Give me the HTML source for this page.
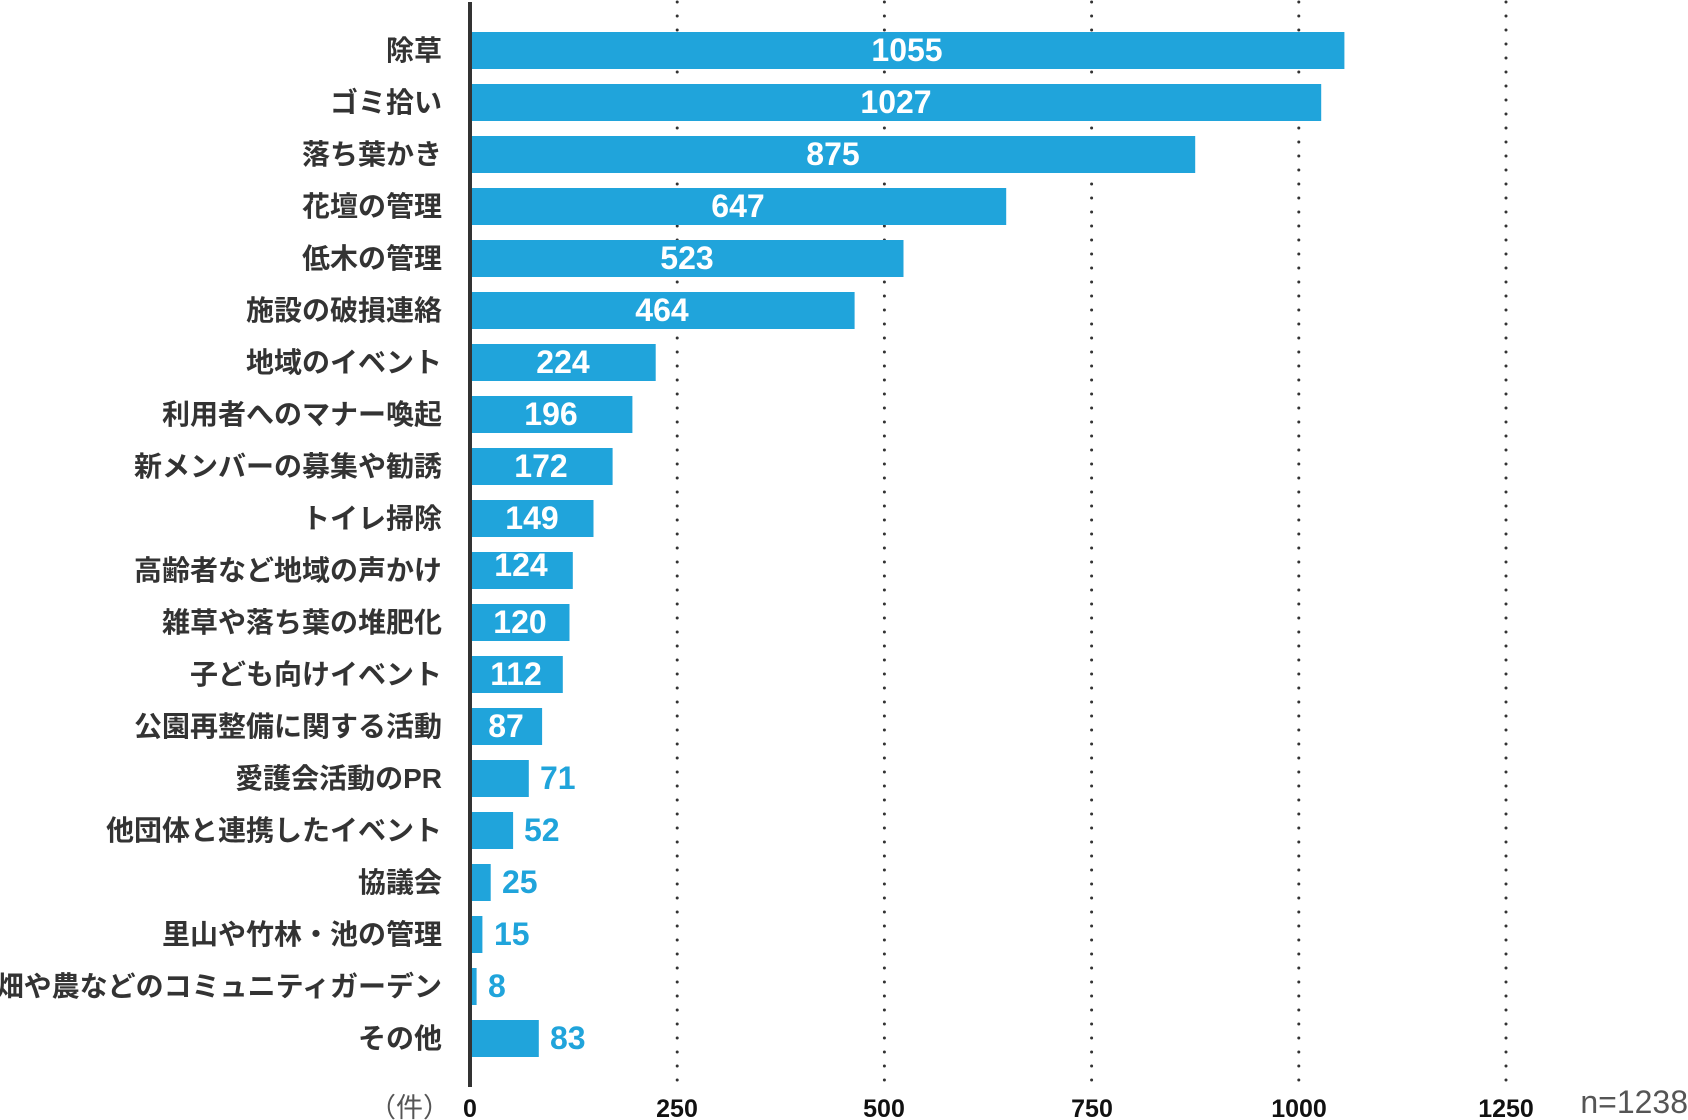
<!DOCTYPE html>
<html><head><meta charset="utf-8"><style>
html,body{margin:0;padding:0;background:#fff}
svg{display:block}
text{font-family:"Liberation Sans","Noto Sans CJK JP",sans-serif}
</style></head><body>
<svg width="1688" height="1120" viewBox="0 0 1688 1120" xmlns="http://www.w3.org/2000/svg">
<g stroke="#333" stroke-width="3" stroke-linecap="round" stroke-dasharray="0 14">
<line x1="677.2" y1="2" x2="677.2" y2="1086"/>
<line x1="884.4" y1="2" x2="884.4" y2="1086"/>
<line x1="1091.6" y1="2" x2="1091.6" y2="1086"/>
<line x1="1298.8" y1="2" x2="1298.8" y2="1086"/>
<line x1="1506" y1="2" x2="1506" y2="1086"/>
</g>
<g fill="#20a4db">
<rect x="470" y="32" width="874.4" height="37"/>
<rect x="470" y="84" width="851.2" height="37"/>
<rect x="470" y="136" width="725.2" height="37"/>
<rect x="470" y="188" width="536.2" height="37"/>
<rect x="470" y="240" width="433.5" height="37"/>
<rect x="470" y="292" width="384.6" height="37"/>
<rect x="470" y="344" width="185.7" height="37"/>
<rect x="470" y="396" width="162.4" height="37"/>
<rect x="470" y="448" width="142.6" height="37"/>
<rect x="470" y="500" width="123.5" height="37"/>
<rect x="470" y="552" width="102.8" height="37"/>
<rect x="470" y="604" width="99.5" height="37"/>
<rect x="470" y="656" width="92.8" height="37"/>
<rect x="470" y="708" width="72.1" height="37"/>
<rect x="470" y="760" width="58.8" height="37"/>
<rect x="470" y="812" width="43.1" height="37"/>
<rect x="470" y="864" width="20.7" height="37"/>
<rect x="470" y="916" width="12.4" height="37"/>
<rect x="470" y="968" width="6.6" height="37"/>
<rect x="470" y="1020" width="68.8" height="37"/>
</g>
<g font-size="28" font-weight="bold" fill="#333" text-anchor="end">
<text x="442" y="60">除草</text>
<text x="442" y="112">ゴミ拾い</text>
<text x="442" y="164">落ち葉かき</text>
<text x="442" y="216">花壇の管理</text>
<text x="442" y="268">低木の管理</text>
<text x="442" y="320">施設の破損連絡</text>
<text x="442" y="372">地域のイベント</text>
<text x="442" y="424">利用者へのマナー喚起</text>
<text x="442" y="476">新メンバーの募集や勧誘</text>
<text x="442" y="528">トイレ掃除</text>
<text x="442" y="580">高齢者など地域の声かけ</text>
<text x="442" y="632">雑草や落ち葉の堆肥化</text>
<text x="442" y="684">子ども向けイベント</text>
<text x="442" y="736">公園再整備に関する活動</text>
<text x="442" y="788">愛護会活動のPR</text>
<text x="442" y="840">他団体と連携したイベント</text>
<text x="442" y="892">協議会</text>
<text x="442" y="944">里山や竹林・池の管理</text>
<text x="442" y="996">畑や農などのコミュニティガーデン</text>
<text x="442" y="1048">その他</text>
</g>
<g font-size="32" font-weight="bold" fill="#fff" text-anchor="middle">
<text x="907" y="61">1055</text>
<text x="896" y="113">1027</text>
<text x="833" y="165">875</text>
<text x="738" y="217">647</text>
<text x="687" y="269">523</text>
<text x="662" y="321">464</text>
<text x="563" y="373">224</text>
<text x="551" y="425">196</text>
<text x="541" y="477">172</text>
<text x="532" y="529">149</text>
<text x="521" y="576">124</text>
<text x="520" y="633">120</text>
<text x="516" y="685">112</text>
<text x="506" y="737">87</text>
</g>
<g font-size="32" font-weight="bold" fill="#20a4db">
<text x="540" y="789">71</text>
<text x="524" y="841">52</text>
<text x="502" y="893">25</text>
<text x="494" y="945">15</text>
<text x="488" y="997">8</text>
<text x="550" y="1049">83</text>
</g>
<line x1="470" y1="2" x2="470" y2="1087" stroke="#333" stroke-width="4"/>
<g font-size="25" font-weight="bold" fill="#111" text-anchor="middle">
<text x="470" y="1117">0</text><text x="677" y="1117">250</text><text x="884" y="1117">500</text><text x="1092" y="1117">750</text><text x="1299" y="1117">1000</text><text x="1506" y="1117">1250</text>
</g>
<text x="450" y="1117" font-size="27" fill="#555" text-anchor="end">（件）</text>
<text x="1688" y="1113" font-size="32" fill="#555" text-anchor="end">n=1238</text>
</svg>
</body></html>
